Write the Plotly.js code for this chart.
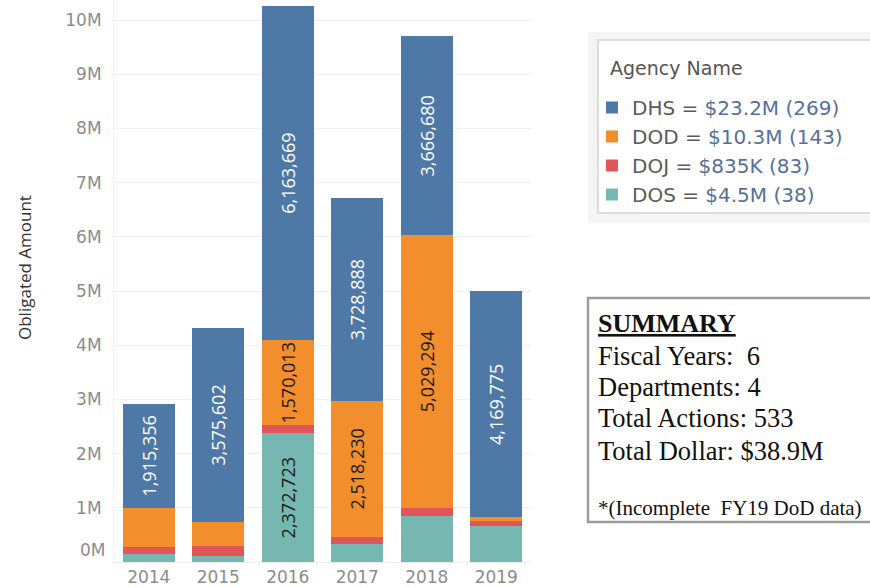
<!DOCTYPE html>
<html>
<head>
<meta charset="utf-8">
<script src="https://cdn.plot.ly/plotly-3.0.1.min.js"></script>
<style>html,body{margin:0;padding:0;background:#fff;}#chart{width:870px;height:587px;}</style>
</head>
<body>
<div id="chart"></div>
<script>
// ---- data ----
const years = ['2014', '2015', '2016', '2017', '2018', '2019'];
const agencies = ['DHS', 'DOD', 'DOJ', 'DOS'];
const dhsValues = [1915356, 3575602, 6163669, 3728888, 3666680, 4169775];
const dodValues = [720000, 440000, 1570013, 2518230, 5029294, 70000];
const dojValues = [130000, 190000, 150000, 130000, 150000, 95000];
const dosValues = [150000, 110000, 2372723, 330000, 850000, 660000];
const legendAmounts = ['$23.2M (269)', '$10.3M (143)', '$835K (83)', '$4.5M (38)'];
const tickValues = [0, 1e6, 2e6, 3e6, 4e6, 5e6, 6e6, 7e6, 8e6, 9e6, 10e6];
const tickLabels = ['', '1M', '2M', '3M', '4M', '5M', '6M', '7M', '8M', '9M', '10M'];
const zeroLabel = '0M';
const summaryTitle = 'SUMMARY';
const summaryLines = ['Fiscal Years:  6', 'Departments: 4', 'Total Actions: 533', 'Total Dollar: $38.9M'];
const summaryNote = '*(Incomplete  FY19 DoD data)';
const legendTitle = 'Agency Name';
const yTitle = 'Obligated Amount';

// ---- styling ----
const colors = {DHS: '#4e79a7', DOD: '#f28e2b', DOJ: '#e15759', DOS: '#76b7b2'};
const labelColors = {DHS: '#ffffff', DOD: '#1a1a1a', DOJ: '#1a1a1a', DOS: '#1a1a1a'};
const LABEL_MIN = 1.5e6;

const L = 114, R = 531, T = 0, B = 562;
const px2x = px => (px - L) / (R - L);
const py2y = py => (B - py) / (B - T);

const fmt = v => v.toLocaleString('en-US');
const series = {DHS: dhsValues, DOD: dodValues, DOJ: dojValues, DOS: dosValues};

// bottom-first stacking order
const stackOrder = ['DOS', 'DOJ', 'DOD', 'DHS'];
const traces = stackOrder.map(name => {
  const vals = series[name];
  const idx = agencies.indexOf(name);
  return {
    type: 'bar',
    name: name + ' = <span style="color:#56709a">' + legendAmounts[idx] + '</span>',
    x: years,
    y: vals,
    marker: {color: colors[name], line: {width: 0}},
    text: vals.map(v => v >= LABEL_MIN ? fmt(v) : ''),
    textposition: 'inside',
    insidetextanchor: 'middle',
    textangle: -90,
    constraintext: 'none',
    textfont: {family: 'Open Sans', size: 18, color: labelColors[name]},
    hoverinfo: 'x+y'
  };
});

const shapes = [
  // legend panel
  {type: 'rect', xref: 'paper', yref: 'paper', x0: px2x(588), x1: px2x(880), y0: py2y(223), y1: py2y(32),
   fillcolor: '#f4f4f4', line: {width: 0}, layer: 'below'},
  {type: 'rect', xref: 'paper', yref: 'paper', x0: px2x(598), x1: px2x(880), y0: py2y(213), y1: py2y(40),
   fillcolor: '#ffffff', line: {color: '#d2d2d2', width: 1.5}, layer: 'below'},
  // summary box
  {type: 'rect', xref: 'paper', yref: 'paper', x0: px2x(588), x1: px2x(885), y0: py2y(522), y1: py2y(298),
   fillcolor: '#ffffff', line: {color: '#9c9c9c', width: 2.5}, layer: 'below'}
];

const serif = 'Liberation Serif, Times New Roman, serif';
const summaryY = [356, 387, 418, 451];
const annotations = [
  {xref: 'paper', yref: 'y', x: 0, y: 0, xanchor: 'right', yanchor: 'middle', xshift: -7, yshift: 12,
   text: zeroLabel, showarrow: false, font: {family: 'DejaVu Sans', size: 17, color: '#8c8c8c'}},
  {xref: 'paper', yref: 'paper', x: px2x(24), y: py2y(268), xanchor: 'center', yanchor: 'middle', textangle: -90,
   text: yTitle, showarrow: false, font: {family: 'Open Sans', size: 17, color: '#333333'}},
  {xref: 'paper', yref: 'paper', x: px2x(608), y: py2y(68), xanchor: 'left', yanchor: 'middle',
   text: legendTitle, showarrow: false, font: {family: 'DejaVu Sans', size: 19, color: '#555555'}},
  {xref: 'paper', yref: 'paper', x: px2x(596), y: py2y(323), xanchor: 'left', yanchor: 'middle',
   text: '<b><u>' + summaryTitle + '</u></b>', showarrow: false, font: {family: serif, size: 26, color: '#111111'}},
  {xref: 'paper', yref: 'paper', x: px2x(596), y: py2y(508), xanchor: 'left', yanchor: 'middle',
   text: summaryNote, showarrow: false, font: {family: serif, size: 21, color: '#111111'}}
].concat(summaryLines.map((t, i) => ({
  xref: 'paper', yref: 'paper', x: px2x(596), y: py2y(summaryY[i]), xanchor: 'left', yanchor: 'middle',
  text: t, showarrow: false, font: {family: serif, size: 26.5, color: '#111111'}
})));

const layout = {
  width: 870, height: 587,
  margin: {l: L, r: 870 - R, t: T, b: 587 - B, pad: 0},
  paper_bgcolor: '#ffffff', plot_bgcolor: '#ffffff',
  barmode: 'stack',
  bargap: 0.25,
  showlegend: true,
  legend: {
    x: px2x(592), y: py2y(88), xanchor: 'left', yanchor: 'top',
    traceorder: 'reversed',
    bgcolor: 'rgba(0,0,0,0)', borderwidth: 0,
    font: {family: 'DejaVu Sans', size: 20, color: '#5a5a5a'},
    itemclick: false, itemdoubleclick: false
  },
  xaxis: {
    type: 'category',
    showgrid: false, zeroline: false,
    showline: true, linecolor: '#ededed', linewidth: 1,
    ticks: '', tickfont: {family: 'DejaVu Sans', size: 17, color: '#8c8c8c'},
    ticklabelstandoff: 0,
    fixedrange: true
  },
  yaxis: {
    range: [0, (B - T) / 54.2 * 1e6],
    tickmode: 'array', tickvals: tickValues, ticktext: tickLabels,
    showgrid: true, gridcolor: '#efefef', gridwidth: 1,
    zeroline: false,
    showline: true, linecolor: '#f2f2f2',
    ticks: '', tickfont: {family: 'DejaVu Sans', size: 17, color: '#8c8c8c'},
    ticklabelstandoff: 8,
    automargin: false,
    fixedrange: true
  },
  shapes: shapes,
  annotations: annotations
};

Plotly.newPlot('chart', traces, layout, {displayModeBar: false, staticPlot: true});
</script>
</body>
</html>
